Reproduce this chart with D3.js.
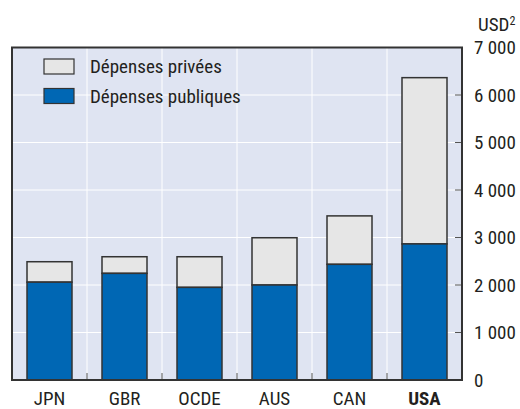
<!DOCTYPE html>
<html>
<head>
<meta charset="utf-8">
<script src="https://cdn.jsdelivr.net/npm/d3@7"></script>
<style>
    body { margin: 0; background: #fff; }
    text { font-family: "Liberation Sans Narrow", "Roboto Condensed", "Liberation Sans", sans-serif; fill: #231f20; }
</style>
</head>
<body>
<div id="chart"></div>
<script>
const countries = ['JPN', 'GBR', 'OCDE', 'AUS', 'CAN', 'USA'];
const publicSpending = [2060, 2245, 1950, 2000, 2435, 2865];
const privateSpending = [430, 350, 645, 995, 1020, 3500];
const yTicks = [0, 1000, 2000, 3000, 4000, 5000, 6000, 7000];
const seriesNames = ['Dépenses privées', 'Dépenses publiques'];

const width = 520, height = 409;
const margin = { top: 47.5, right: 58, bottom: 29, left: 12 };

const svg = d3.select('#chart')
    .append('svg')
    .attr('width', width)
    .attr('height', height);

const xScale = d3.scaleBand()
    .domain(countries)
    .range([margin.left, width - margin.right])
    .paddingInner(0.4)
    .paddingOuter(0.2);

const yScale = d3.scaleLinear()
    .domain([0, 7000])
    .range([height - margin.bottom, margin.top]);

const x0 = margin.left, x1 = width - margin.right;
const y0 = yScale(0), y1 = yScale(7000);

// plot background
svg.append('rect')
    .attr('x', x0).attr('y', y1)
    .attr('width', x1 - x0).attr('height', y0 - y1)
    .attr('fill', '#dfe4f2');

// horizontal grid
svg.selectAll('.hgrid')
    .data(yTicks.slice(1, -1))
    .enter()
    .append('line')
    .attr('x1', x0).attr('x2', x1)
    .attr('y1', d => yScale(d)).attr('y2', d => yScale(d))
    .attr('stroke', '#fff').attr('stroke-width', 1);

// vertical grid between categories
const seps = countries.slice(1).map(c => xScale(c) - xScale.step() * xScale.paddingInner() / 2);
svg.selectAll('.vgrid')
    .data(seps)
    .enter()
    .append('line')
    .attr('x1', d => d).attr('x2', d => d)
    .attr('y1', y1).attr('y2', y0)
    .attr('stroke', '#fff').attr('stroke-width', 1);

// small ticks at bottom
svg.selectAll('.btick')
    .data(seps)
    .enter()
    .append('line')
    .attr('x1', d => d).attr('x2', d => d)
    .attr('y1', y0 - 7).attr('y2', y0)
    .attr('stroke', '#555').attr('stroke-width', 1);

// right ticks inside
svg.selectAll('.rtick')
    .data(yTicks.slice(1, -1))
    .enter()
    .append('line')
    .attr('x1', x1 - 7).attr('x2', x1)
    .attr('y1', d => yScale(d)).attr('y2', d => yScale(d))
    .attr('stroke', '#555').attr('stroke-width', 1);

// bars
const bars = svg.selectAll('.bar')
    .data(countries)
    .enter()
    .append('g');

bars.append('rect')
    .attr('x', d => xScale(d))
    .attr('width', xScale.bandwidth())
    .attr('y', (d, i) => yScale(publicSpending[i] + privateSpending[i]))
    .attr('height', (d, i) => yScale(publicSpending[i]) - yScale(publicSpending[i] + privateSpending[i]))
    .attr('fill', '#e6e6e6')
    .attr('stroke', '#333').attr('stroke-width', 1.5);

bars.append('rect')
    .attr('x', d => xScale(d))
    .attr('width', xScale.bandwidth())
    .attr('y', (d, i) => yScale(publicSpending[i]))
    .attr('height', (d, i) => y0 - yScale(publicSpending[i]))
    .attr('fill', '#0067b4')
    .attr('stroke', '#333').attr('stroke-width', 1.5);

// frame
svg.append('rect')
    .attr('x', x0).attr('y', y1)
    .attr('width', x1 - x0).attr('height', y0 - y1)
    .attr('fill', 'none')
    .attr('stroke', '#333').attr('stroke-width', 2);

// y axis labels on right
svg.selectAll('.ylab')
    .data(yTicks)
    .enter()
    .append('text')
    .attr('x', 474)
    .attr('y', d => yScale(d))
    .attr('dy', '0.35em')
    .attr('font-size', '19px')
    .text(d => d === 0 ? '0' : d3.format(',')(d).replace(',', ' '));

svg.append('text')
    .attr('x', 478)
    .attr('y', 31)
    .attr('font-size', '19px')
    .text('USD')
    .append('tspan')
    .attr('font-size', '12px')
    .attr('dy', '-6')
    .text('2');

// x labels
svg.selectAll('.xlab')
    .data(countries)
    .enter()
    .append('text')
    .attr('x', d => xScale(d) + xScale.bandwidth() / 2)
    .attr('y', 405)
    .attr('text-anchor', 'middle')
    .attr('font-size', '19px')
    .attr('font-weight', d => d === 'USA' ? 'bold' : 'normal')
    .text(d => d);

// legend
const legendColors = ['#e6e6e6', '#0067b4'];
const legend = svg.selectAll('.legend')
    .data(seriesNames)
    .enter()
    .append('g')
    .attr('transform', (d, i) => `translate(44, ${59 + i * 29.5})`);

legend.append('rect')
    .attr('width', 30)
    .attr('height', 15)
    .attr('fill', (d, i) => legendColors[i])
    .attr('stroke', '#333').attr('stroke-width', 1.2);

legend.append('text')
    .attr('x', 46)
    .attr('y', 7.5)
    .attr('dy', '0.35em')
    .attr('font-size', '19px')
    .text(d => d);
</script>
</body>
</html>
